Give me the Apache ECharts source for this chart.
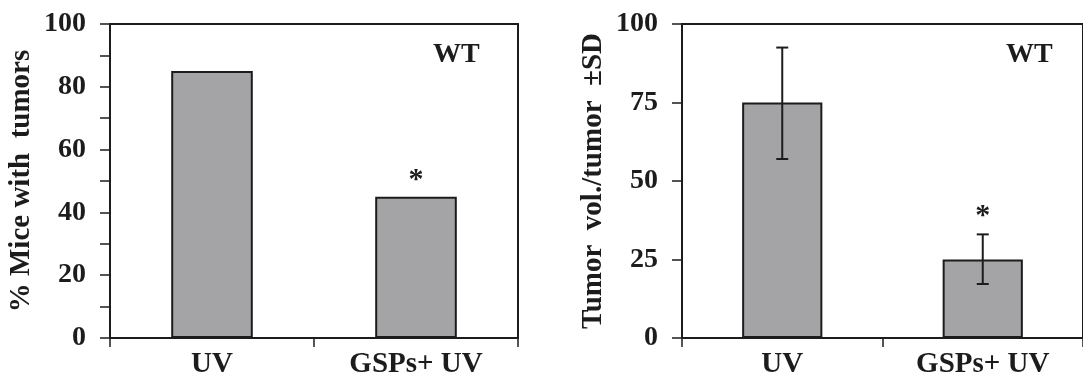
<!DOCTYPE html>
<html>
<head>
<meta charset="utf-8">
<script src="https://cdn.jsdelivr.net/npm/echarts@6/dist/echarts.min.js"></script>
<style>
html,body{margin:0;padding:0;background:#fff;}
#c{width:1083px;height:379px;}
</style>
</head>
<body>
<div id="c"></div>
<script>
// ---- data ----
const categories = ['UV', 'GSPs+ UV'];
const pctMiceWithTumors = [85, 45];
const tumorVolMean = [75, 25];
const tumorVolLow = [57, 17.2];
const tumorVolHigh = [92.5, 33];
const sigLeft = ['', '*'];
const sigRight = ['', '*'];
const panelTag = 'WT';
const yNameLeft = '% Mice with  tumors';
const yNameRight = 'Tumor  vol./tumor  ±SD';

const FONT = "'Liberation Serif', 'Times New Roman', serif";
const INK = '#1c1c1c';
const BAR = '#a4a4a7';

const chart = echarts.init(document.getElementById('c'), null, {renderer: 'canvas'});

function yAxisCfg(gridIndex, name, interval, minor) {
  return {
    type: 'value', gridIndex, min: 0, max: 100, interval,
    name, nameLocation: 'middle', nameGap: 74,
    nameTextStyle: {fontFamily: FONT, fontWeight: 'bold', fontSize: 29, color: INK},
    axisLine: {show: true, lineStyle: {color: INK, width: 2}},
    axisTick: {show: true, length: 10, lineStyle: {color: INK, width: 1.5}},
    minorTick: {show: minor, splitNumber: 2, length: 10, lineStyle: {color: INK, width: 1.5}},
    splitLine: {show: false},
    axisLabel: {fontFamily: FONT, fontWeight: 'bold', fontSize: 28, color: INK, margin: 24}
  };
}
function xAxisCfg(gridIndex) {
  return {
    type: 'category', gridIndex, data: categories,
    axisLine: {show: true, lineStyle: {color: INK, width: 2}},
    axisTick: {show: true, length: 9, interval: 0, lineStyle: {color: INK, width: 1.5}},
    axisLabel: {fontFamily: FONT, fontWeight: 'bold', fontSize: 29, color: INK, margin: 12, interval: 0}
  };
}

function sigSeries(xi, yi, anchors, marks, gap) {
  return {
    type: 'custom', xAxisIndex: xi, yAxisIndex: yi, silent: true, z: 5,
    data: anchors.map((a, i) => [i, a, marks[i]]),
    renderItem: function (params, api) {
      const m = marks[api.value(0)];
      if (!m) return null;
      const p = api.coord([api.value(0), api.value(1)]);
      return {type: 'text', x: p[0], y: p[1] - gap,
        style: {text: m, fontFamily: FONT, fontWeight: 'bold', fontSize: 30, fill: INK,
          align: 'center', verticalAlign: 'middle'}};
    }
  };
}

const option = {
  animation: false,
  backgroundColor: '#fff',
  grid: [
    {left: 110, top: 24, width: 408, height: 316, show: true, borderColor: INK, borderWidth: 2, backgroundColor: 'transparent'},
    {left: 682, top: 24, width: 408, height: 316, show: true, borderColor: INK, borderWidth: 2, backgroundColor: 'transparent'}
  ],
  xAxis: [xAxisCfg(0), xAxisCfg(1)],
  yAxis: [yAxisCfg(0, yNameLeft, 20, true), yAxisCfg(1, yNameRight, 25, false)],
  graphic: [
    {type: 'text', left: 433, top: 41, style: {text: panelTag, fontFamily: FONT, fontWeight: 'bold', fontSize: 28, fill: INK}},
    {type: 'text', left: 1006, top: 41, style: {text: panelTag, fontFamily: FONT, fontWeight: 'bold', fontSize: 28, fill: INK}}
  ],
  series: [
    {type: 'bar', xAxisIndex: 0, yAxisIndex: 0, data: pctMiceWithTumors, barWidth: '40%',
      itemStyle: {color: BAR, borderColor: INK, borderWidth: 2}},
    {type: 'bar', xAxisIndex: 1, yAxisIndex: 1, data: tumorVolMean, barWidth: '40%',
      itemStyle: {color: BAR, borderColor: INK, borderWidth: 2}},
    {
      type: 'custom', xAxisIndex: 1, yAxisIndex: 1, z: 4,
      data: tumorVolLow.map((lo, i) => [i, lo, tumorVolHigh[i]]),
      renderItem: function (params, api) {
        const lo = api.coord([api.value(0), api.value(1)]);
        const hi = api.coord([api.value(0), api.value(2)]);
        const hw = 6;
        const st = {stroke: INK, lineWidth: 2};
        return {type: 'group', children: [
          {type: 'line', shape: {x1: lo[0], y1: lo[1], x2: hi[0], y2: hi[1]}, style: st},
          {type: 'line', shape: {x1: hi[0] - hw, y1: hi[1], x2: hi[0] + hw, y2: hi[1]}, style: st},
          {type: 'line', shape: {x1: lo[0] - hw, y1: lo[1], x2: lo[0] + hw, y2: lo[1]}, style: st}
        ]};
      }
    },
    sigSeries(0, 0, pctMiceWithTumors, sigLeft, 16),
    sigSeries(1, 1, tumorVolHigh, sigRight, 18)
  ]
};
chart.setOption(option);
</script>
</body>
</html>
